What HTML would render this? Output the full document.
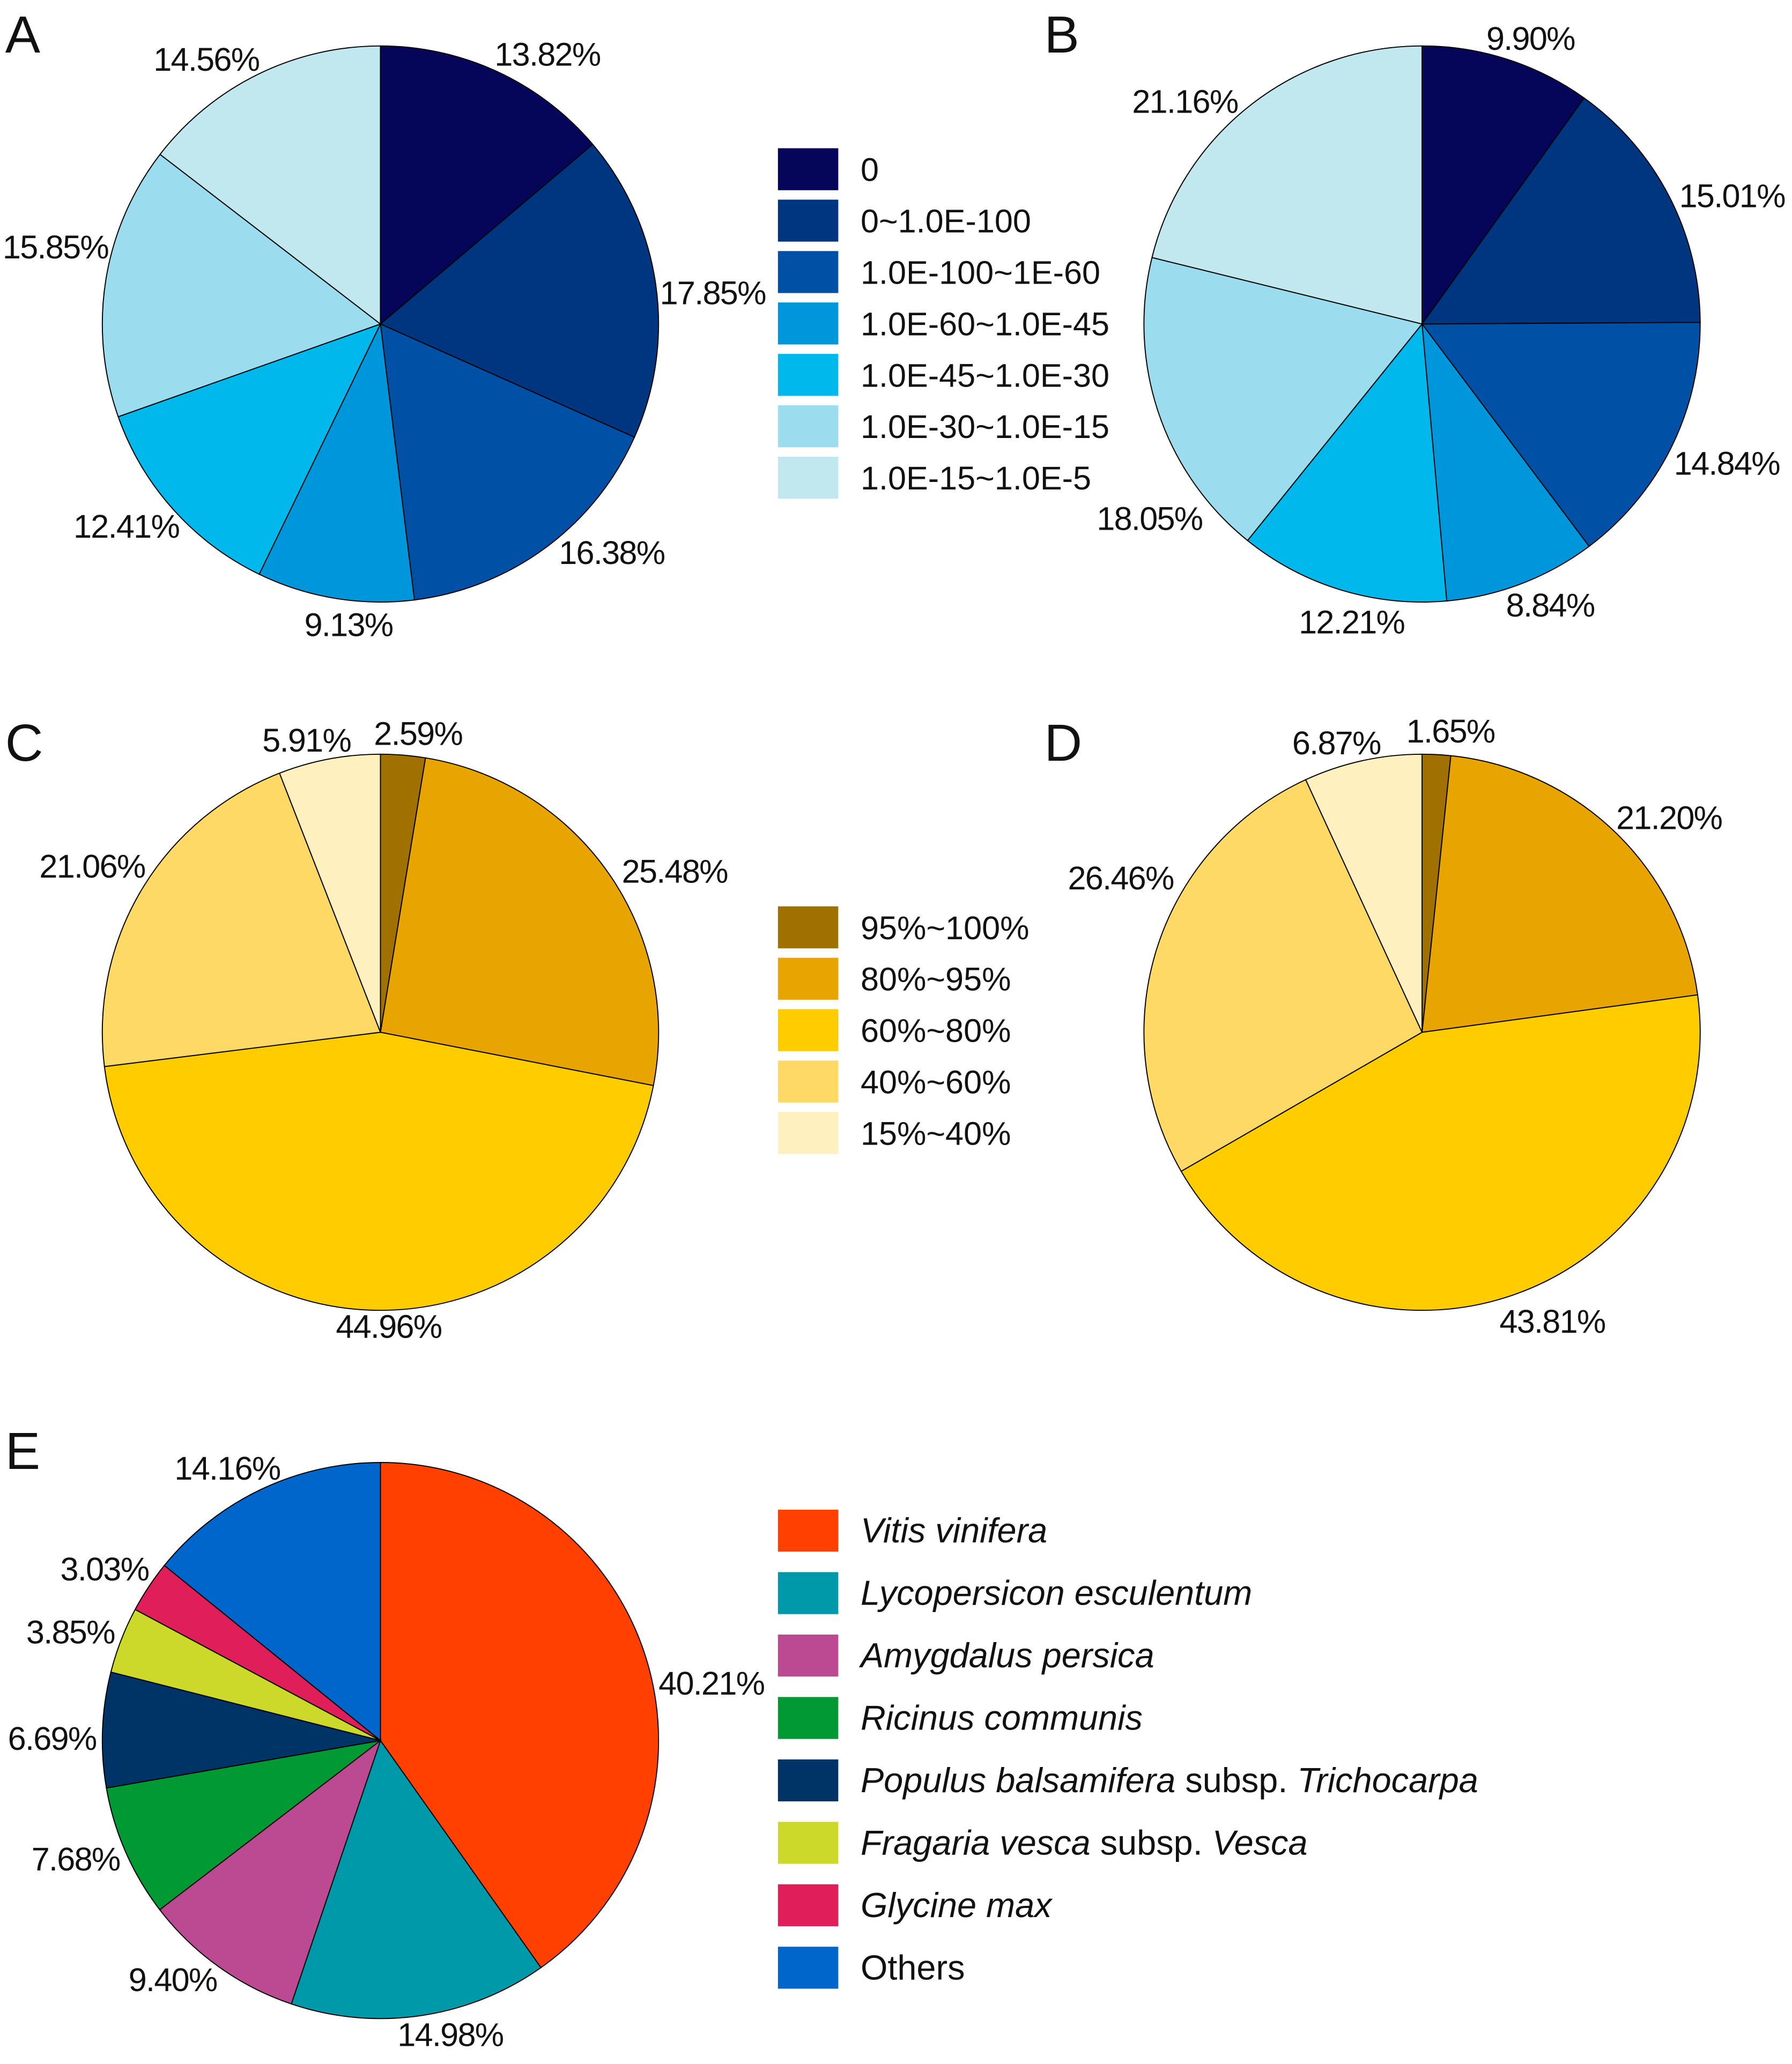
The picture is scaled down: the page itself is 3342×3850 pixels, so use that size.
<!DOCTYPE html>
<html><head><meta charset="utf-8"><style>
html,body{margin:0;padding:0;background:#fff}
svg{display:block}
text{font-family:"Liberation Sans",sans-serif;fill:#111}
</style></head><body>
<svg id="c" width="3342" height="3850" viewBox="0 0 1366 1573.6" xmlns="http://www.w3.org/2000/svg"></svg>
<script>
const valsA=[13.82,17.85,16.38,9.13,12.41,15.85,14.56];
const valsB=[9.90,15.01,14.84,8.84,12.21,18.05,21.16];
const valsC=[2.59,25.48,44.96,21.06,5.91];
const valsD=[1.65,21.20,43.81,26.46,6.87];
const valsE=[40.21,14.98,9.40,7.68,6.69,3.85,3.03,14.16];
const catsA=["0","0~1.0E-100","1.0E-100~1E-60","1.0E-60~1.0E-45","1.0E-45~1.0E-30","1.0E-30~1.0E-15","1.0E-15~1.0E-5"];
const catsC=["95%~100%","80%~95%","60%~80%","40%~60%","15%~40%"];
const catsE=[[["Vitis vinifera",1]],[["Lycopersicon esculentum",1]],[["Amygdalus persica",1]],[["Ricinus communis",1]],[["Populus balsamifera",1],[" subsp. ",0],["Trichocarpa",1]],[["Fragaria vesca",1],[" subsp. ",0],["Vesca",1]],[["Glycine max",1]],[["Others",0]]];
const colBlue=["#05055a","#003580","#0050a5","#0096db","#00b8ec","#9bdcee","#c2e8ef"];
const colYel=["#a07000","#e8a400","#ffcc00","#ffd966","#fff0c0"];
const colE=["#ff4000","#0099aa","#bb4a93","#009933","#003366","#ccd92a","#e01e5a","#0066cc"];
// label layout positions (text start x, baseline y) per slice
const posA=[[377,50],[503,232],[426,430],[232,485],[56,410],[2,197],[117,54]];
const posB=[[1133,38],[1280,158],[1276,362],[1148,470],[990,483],[836,404],[863,86]];
const posC=[[285,568],[474,673],[256,1020],[30,669],[200,573]];
const posD=[[1072,566],[1232,632],[1143,1016],[814,678],[985,575]];
const posE=[[502,1292],[303,1560],[98,1518],[24,1426],[6,1334],[20,1253],[46,1205],[133,1128]];
const svg=document.getElementById('c');
const NS="http://www.w3.org/2000/svg";
function mk(t,a){const e=document.createElementNS(NS,t);for(const k in a)e.setAttribute(k,a[k]);svg.appendChild(e);return e;}
function pie(id,cx,cy,r,vals,cols,pos){
  const tot=vals.reduce((a,b)=>a+b,0);let a0=0;
  vals.forEach((v,i)=>{
    const a1=a0+v/tot*2*Math.PI;
    const x0=cx+r*Math.sin(a0),y0=cy-r*Math.cos(a0),x1=cx+r*Math.sin(a1),y1=cy-r*Math.cos(a1);
    const p=mk('path',{d:`M${cx},${cy}L${x0},${y0}A${r},${r} 0 ${a1-a0>Math.PI?1:0} 1 ${x1},${y1}Z`,fill:cols[i],stroke:'#000','stroke-width':0.8});
    
    
    const t=mk('text',{x:pos[i][0],y:pos[i][1],'font-size':25,'letter-spacing':-0.7});
    t.textContent=v.toFixed(2)+'%';
    
    
    a0=a1;
  });
}
function legend(id,x,y,step,cats,cols,h,fs){
  cats.forEach((c,i)=>{
    const r=mk('rect',{x:x,y:y+i*step,width:46,height:h,fill:cols[i]});
    
    
    const t=mk('text',{x:x+63,y:y+i*step+h/2+9,'font-size':fs,'letter-spacing':0});
    if(typeof c==='string'){t.textContent=c;}
    else c.forEach(seg=>{const ts=document.createElementNS(NS,'tspan');ts.textContent=seg[0];if(seg[1])ts.setAttribute('font-style','italic');t.appendChild(ts);});
    
    
  });
}
function letter(s,x,y){const t=mk('text',{x:x,y:y,'font-size':40});t.textContent=s;}
pie('pie-a',290,247,212,valsA,colBlue,posA);
pie('pie-b',1084,247,212,valsB,colBlue,posB);
pie('pie-c',290,787,212,valsC,colYel,posC);
pie('pie-d',1084,787,212,valsD,colYel,posD);
pie('pie-e',290,1327,212,valsE,colE,posE);
legend('a',593,113,39.2,catsA,colBlue,32,25);
legend('c',593,691,39.2,catsC,colYel,32,25);
legend('e',593,1151,47.6,catsE,colE,32,26.5);
letter('A',4,40);letter('B',796,40);letter('C',4,580);letter('D',796,580);letter('E',4,1120);
</script>
</body></html>
